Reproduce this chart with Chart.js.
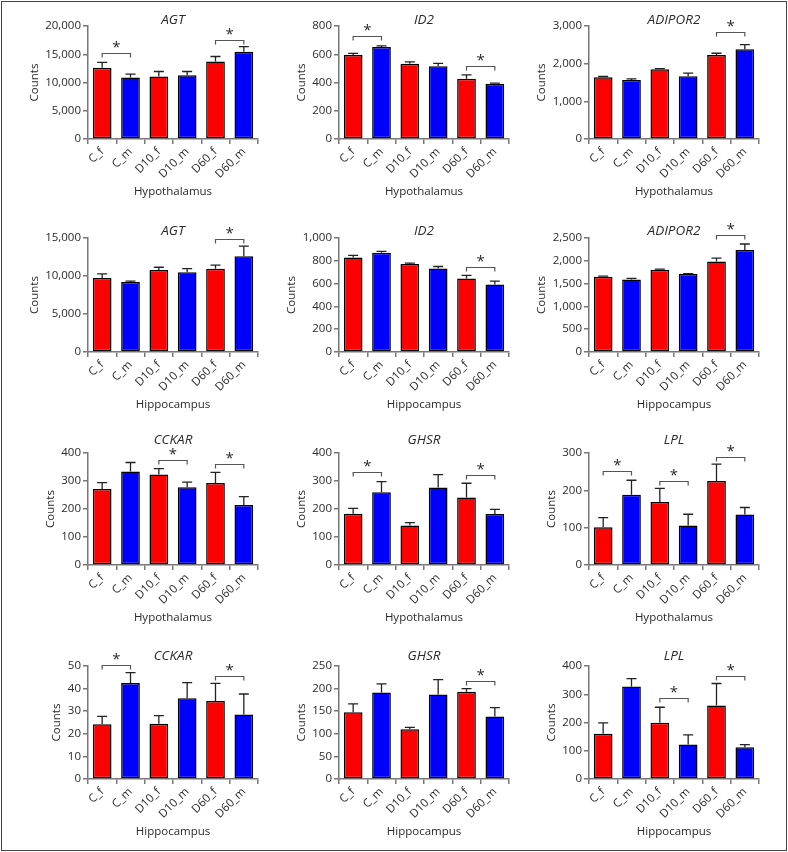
<!DOCTYPE html>
<html>
<head>
<meta charset="utf-8">
<script src="https://cdn.jsdelivr.net/npm/chart.js@4.4.1/dist/chart.umd.min.js"></script>
<style>
  body { margin: 0; background: #fff; }
  #frame { position: absolute; left: 1px; top: 1px; width: 784px; height: 848px; border: 1px solid #444; }
  canvas { position: absolute; }
</style>
</head>
<body>
<div id="frame"></div>
<script>
const groups = ['C_f', 'C_m', 'D10_f', 'D10_m', 'D60_f', 'D60_m'];
const barColors = ['#ff0000', '#0000ff', '#ff0000', '#0000ff', '#ff0000', '#0000ff'];

// hypothalamus, row 1
const agtHypMean = [12600, 10900, 11050, 11300, 13700, 15450];
const agtHypErr = [950, 600, 900, 650, 900, 900];
const agtHypStars = [[0, 1, 15200], [4, 5, 17600]];

const id2HypMean = [595, 652, 532, 515, 426, 392];
const id2HypErr = [11, 8, 14, 20, 28, 4];
const id2HypStars = [[0, 1, 732], [4, 5, 518]];

const adiporHypMean = [1641, 1565, 1853, 1668, 2232, 2382];
const adiporHypErr = [18, 32, 17, 80, 44, 125];
const adiporHypStars = [[4, 5, 2832]];

// hippocampus, row 2
const agtHipMean = [9750, 9200, 10800, 10500, 10950, 12600];
const agtHipErr = [530, 130, 350, 480, 480, 1320];
const agtHipStars = [[4, 5, 14870]];

const id2HipMean = [830, 870, 771, 733, 645, 592];
const id2HipErr = [18, 12, 8, 17, 27, 30];
const id2HipStars = [[4, 5, 742]];

const adiporHipMean = [1650, 1590, 1804, 1708, 1987, 2236];
const adiporHipErr = [14, 25, 14, 10, 73, 132];
const adiporHipStars = [[4, 5, 2573]];

// hypothalamus, row 3
const cckarHypMean = [271, 334, 323, 278, 293, 214];
const cckarHypErr = [23, 32, 21, 18, 38, 30];
const cckarHypStars = [[2, 3, 374], [4, 5, 360]];

const ghsrHypMean = [183, 260, 141, 277, 241, 182];
const ghsrHypErr = [19, 38, 10, 46, 51, 17];
const ghsrHypStars = [[0, 1, 333], [4, 5, 321]];

const lplHypMean = [101, 188, 169, 106, 225, 135];
const lplHypErr = [26, 39, 36, 30, 45, 19];
const lplHypStars = [[0, 1, 253], [2, 3, 225], [4, 5, 290]];

// hippocampus, row 4
const cckarHipMean = [24.2, 42.5, 24.5, 35.7, 34.5, 28.5];
const cckarHipErr = [3.5, 4.6, 3.5, 6.9, 7.8, 9.1];
const cckarHipStars = [[0, 1, 50.6], [4, 5, 45.7]];

const ghsrHipMean = [147.5, 191.5, 110, 187, 193, 138];
const ghsrHipErr = [18.5, 19, 4, 33, 7, 20];
const ghsrHipStars = [[4, 5, 217.5]];

const lplHipMean = [160, 327, 199, 122, 260, 112];
const lplHipErr = [39, 28, 55, 34, 78, 10];
const lplHipStars = [[2, 3, 288], [4, 5, 366]];

const panels = [
  { gene: 'AGT', region: 'Hypothalamus', mean: agtHypMean, err: agtHypErr, stars: agtHypStars, max: 20000, step: 5000, col: 0, row: 0 },
  { gene: 'ID2', region: 'Hypothalamus', mean: id2HypMean, err: id2HypErr, stars: id2HypStars, max: 800, step: 200, col: 1, row: 0 },
  { gene: 'ADIPOR2', region: 'Hypothalamus', mean: adiporHypMean, err: adiporHypErr, stars: adiporHypStars, max: 3000, step: 1000, col: 2, row: 0 },
  { gene: 'AGT', region: 'Hippocampus', mean: agtHipMean, err: agtHipErr, stars: agtHipStars, max: 15000, step: 5000, col: 0, row: 1 },
  { gene: 'ID2', region: 'Hippocampus', mean: id2HipMean, err: id2HipErr, stars: id2HipStars, max: 1000, step: 200, col: 1, row: 1 },
  { gene: 'ADIPOR2', region: 'Hippocampus', mean: adiporHipMean, err: adiporHipErr, stars: adiporHipStars, max: 2500, step: 500, col: 2, row: 1 },
  { gene: 'CCKAR', region: 'Hypothalamus', mean: cckarHypMean, err: cckarHypErr, stars: cckarHypStars, max: 400, step: 100, col: 0, row: 2 },
  { gene: 'GHSR', region: 'Hypothalamus', mean: ghsrHypMean, err: ghsrHypErr, stars: ghsrHypStars, max: 400, step: 100, col: 1, row: 2 },
  { gene: 'LPL', region: 'Hypothalamus', mean: lplHypMean, err: lplHypErr, stars: lplHypStars, max: 300, step: 100, col: 2, row: 2 },
  { gene: 'CCKAR', region: 'Hippocampus', mean: cckarHipMean, err: cckarHipErr, stars: cckarHipStars, max: 50, step: 10, col: 0, row: 3 },
  { gene: 'GHSR', region: 'Hippocampus', mean: ghsrHipMean, err: ghsrHipErr, stars: ghsrHipStars, max: 250, step: 50, col: 1, row: 3 },
  { gene: 'LPL', region: 'Hippocampus', mean: lplHipMean, err: lplHipErr, stars: lplHipStars, max: 400, step: 100, col: 2, row: 3 },
];

// page layout of the plot areas
const plotLeft = [88, 339, 589];
const plotWidth = 170;
const plotTop = [26, 238, 453, 666];
const plotBottom = [139, 352, 565, 779];
const canvasLeft = [0, 262, 522];
const canvasWidth = [262, 260, 264];
const canvasTop = [2, 200, 415, 628];
const titleOffset = [-6, -7, -13, -10];

const AXIS = '#777';
const TEXT = '#2a2a2a';
Chart.defaults.font.family = "'Open Sans', sans-serif";
Chart.defaults.color = TEXT;

const errorBars = {
  id: 'errorBars',
  afterDatasetsDraw(chart) {
    const { ctx } = chart;
    const y = chart.scales.y;
    const ds = chart.data.datasets[0];
    ctx.save();
    ctx.strokeStyle = '#222';
    ctx.lineWidth = 1.3;
    chart.getDatasetMeta(0).data.forEach((bar, i) => {
      const top = y.getPixelForValue(ds.data[i] + ds.errors[i]);
      ctx.beginPath();
      ctx.moveTo(bar.x, bar.y);
      ctx.lineTo(bar.x, top);
      ctx.moveTo(bar.x - 5, top);
      ctx.lineTo(bar.x + 5, top);
      ctx.stroke();
    });
    ctx.restore();
  }
};

const sigBrackets = {
  id: 'sigBrackets',
  afterDraw(chart) {
    const { ctx } = chart;
    const y = chart.scales.y;
    const bars = chart.getDatasetMeta(0).data;
    ctx.save();
    ctx.strokeStyle = '#555';
    ctx.lineWidth = 1.2;
    ctx.fillStyle = TEXT;
    ctx.font = "15px 'Open Sans', sans-serif";
    ctx.textAlign = 'center';
    ctx.textBaseline = 'middle';
    chart.data.datasets[0].stars.forEach(([a, b, level]) => {
      const py = Math.round(y.getPixelForValue(level)) + 0.5;
      ctx.beginPath();
      ctx.moveTo(bars[a].x, py + 4);
      ctx.lineTo(bars[a].x, py);
      ctx.lineTo(bars[b].x, py);
      ctx.lineTo(bars[b].x, py + 4);
      ctx.stroke();
      ctx.fillText('*', (bars[a].x + bars[b].x) / 2, py - 6);
    });
    ctx.restore();
  }
};

const geneTitle = {
  id: 'geneTitle',
  afterDraw(chart, args, opts) {
    const { ctx, chartArea } = chart;
    ctx.save();
    ctx.fillStyle = TEXT;
    ctx.font = "italic 13.5px 'Open Sans', sans-serif";
    ctx.textAlign = 'center';
    ctx.textBaseline = 'middle';
    ctx.fillText(opts.text, (chartArea.left + chartArea.right) / 2, chartArea.top + opts.offset);
    ctx.restore();
  }
};

panels.forEach(p => {
  const canvas = document.createElement('canvas');
  const cx = canvasLeft[p.col], cy = canvasTop[p.row];
  const cw = canvasWidth[p.col], ch = plotBottom[p.row] - cy + 70;
  canvas.width = cw;
  canvas.height = ch;
  canvas.style.left = cx + 'px';
  canvas.style.top = cy + 'px';
  document.body.appendChild(canvas);

  const chart = new Chart(canvas.getContext('2d'), {
    type: 'bar',
    data: {
      labels: groups,
      datasets: [{
        data: p.mean,
        errors: p.err,
        stars: p.stars,
        backgroundColor: barColors,
        borderColor: '#000',
        borderWidth: 1.5,
        borderSkipped: false,
        categoryPercentage: 1,
        barPercentage: 0.66,
      }]
    },
    options: {
      responsive: false,
      animation: false,
      layout: { padding: { left: 0, top: 0, right: 0, bottom: 0 } },
      plugins: {
        legend: { display: false },
        tooltip: { enabled: false },
        geneTitle: { text: p.gene, offset: titleOffset[p.row] },
      },
      scales: {
        x: {
          border: { color: AXIS, width: 1.5 },
          grid: { drawOnChartArea: false, color: AXIS, tickLength: 5, lineWidth: 1.5 },
          ticks: { minRotation: 45, maxRotation: 45, autoSkip: false, padding: 1, font: { size: 11.5 } },
          title: { display: true, text: p.region, font: { size: 11.5 }, padding: { top: 3, bottom: 0 } },
        },
        y: {
          min: 0,
          max: p.max,
          border: { color: AXIS, width: 1.5 },
          grid: { drawOnChartArea: false, color: AXIS, tickLength: 5, lineWidth: 1.5 },
          ticks: { stepSize: p.step, padding: 2, font: { size: 11.5 } },
          title: { display: true, text: 'Counts', font: { size: 11.5 }, padding: { top: 0, bottom: 2 } },
        }
      }
    },
    plugins: [errorBars, sigBrackets, geneTitle]
  });

  // nudge the plot area to where it sits in the figure (a few passes, the layout clamps padding)
  const want = {
    left: plotLeft[p.col] - cx,
    right: plotLeft[p.col] + plotWidth - cx,
    top: plotTop[p.row] - cy,
    bottom: plotBottom[p.row] - cy,
  };
  const pad = { left: 0, top: 0, right: 0, bottom: 0 };
  for (let k = 0; k < 4; k++) {
    const ca = chart.chartArea;
    pad.left += want.left - ca.left;
    pad.top += want.top - ca.top;
    pad.right += ca.right - want.right;
    pad.bottom += ca.bottom - want.bottom;
    chart.config.options.layout.padding = { ...pad };
    chart.update('none');
  }
});
</script>
</body>
</html>
